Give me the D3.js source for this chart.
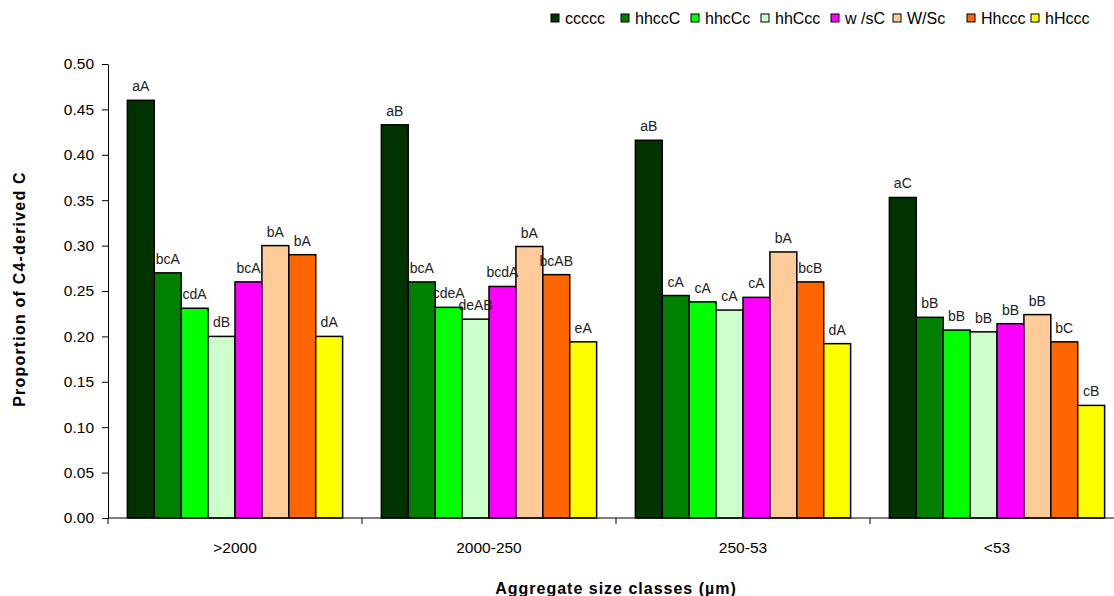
<!DOCTYPE html>
<meta charset="utf-8">
<head>
<style>
body { margin: 0; background: #fff; }
svg { font-family: "Liberation Sans", Arial, sans-serif; }
.axis path, .axis line { stroke: #000; stroke-width: 1px; }
.axis text { font-size: 15.5px; fill: #000; }
.bar { stroke: #000; stroke-width: 1.5px; }
.lbl { font-size: 14px; fill: #222; text-anchor: middle; }
</style>
</head>
<body>
<svg width="1114" height="596"></svg>
<script src="https://cdn.jsdelivr.net/npm/d3@7"></script>
<script>
var groups = [">2000", "2000-250", "250-53", "<53"];
var series = ["ccccc", "hhccC", "hhcCc", "hhCcc", "w /sC", "W/Sc", "Hhccc", "hHccc"];
var colors = ["#003300", "#008000", "#00ff00", "#ccffcc", "#ff00ff", "#ffcc99", "#ff6600", "#ffff00"];
// values per series, one per group
var ccccc = [0.460, 0.433, 0.416, 0.353];
var hhccC = [0.270, 0.260, 0.245, 0.221];
var hhcCc = [0.231, 0.232, 0.238, 0.207];
var hhCcc = [0.200, 0.219, 0.229, 0.205];
var wsC   = [0.260, 0.255, 0.243, 0.214];
var WSc   = [0.300, 0.299, 0.293, 0.224];
var Hhccc = [0.290, 0.268, 0.260, 0.194];
var hHccc = [0.200, 0.194, 0.192, 0.124];
var values = [ccccc, hhccC, hhcCc, hhCcc, wsC, WSc, Hhccc, hHccc];
var letters = [
  ["aA", "aB", "aB", "aC"],
  ["bcA", "bcA", "cA", "bB"],
  ["cdA", "cdeA", "cA", "bB"],
  ["dB", "deAB", "cA", "bB"],
  ["bcA", "bcdA", "cA", "bB"],
  ["bA", "bA", "bA", "bB"],
  ["bA", "bcAB", "bcB", "bC"],
  ["dA", "eA", "dA", "cB"]
];
var yTicks = d3.range(0, 0.501, 0.05);

var svg = d3.select("svg");
var x0 = d3.scaleBand().domain(groups).range([108, 1124]).padding(0);
var x1 = d3.scaleBand().domain(series).range([0, x0.bandwidth()]).paddingInner(0).paddingOuter(0.72);
var y = d3.scaleLinear().domain([0, 0.5]).range([518, 64]);

// bars
var data = [];
groups.forEach(function(g, gi) {
  series.forEach(function(s, si) {
    data.push({g: g, s: s, si: si, v: values[si][gi], t: letters[si][gi]});
  });
});

svg.selectAll("rect.bar").data(data).enter().append("rect")
    .attr("class", "bar")
    .attr("x", function(d) { return x0(d.g) + x1(d.s); })
    .attr("y", function(d) { return y(d.v); })
    .attr("width", x1.bandwidth())
    .attr("height", function(d) { return y(0) - y(d.v); })
    .attr("fill", function(d) { return colors[d.si]; });

svg.selectAll("text.lbl").data(data).enter().append("text")
    .attr("class", "lbl")
    .attr("x", function(d) { return x0(d.g) + x1(d.s) + x1.bandwidth() / 2; })
    .attr("y", function(d) { return y(d.v) - 9; })
    .text(function(d) { return d.t; });

// y axis
svg.append("g")
    .attr("class", "axis")
    .attr("transform", "translate(108,0)")
    .call(d3.axisLeft(y).tickValues(yTicks).tickFormat(d3.format(".2f")).tickSize(6).tickSizeOuter(0))
    .selectAll("text").attr("dx", "-5");

// x axis with ticks at group boundaries
var xg = svg.append("g")
    .attr("class", "axis")
    .attr("transform", "translate(0,518)");
xg.append("line").attr("x1", 108).attr("x2", 1124).attr("y1", 0).attr("y2", 0);
xg.selectAll("line.tk").data(groups).enter().append("line")
    .attr("class", "tk")
    .attr("x1", function(d) { return x0(d); })
    .attr("x2", function(d) { return x0(d); })
    .attr("y1", 0).attr("y2", 6);
xg.selectAll("text").data(groups).enter().append("text")
    .attr("x", function(d) { return x0(d) + x0.bandwidth() / 2; })
    .attr("y", 35)
    .attr("text-anchor", "middle")
    .text(function(d) { return d; });

// titles
svg.append("text")
    .attr("transform", "translate(25,289) rotate(-90)")
    .attr("text-anchor", "middle")
    .style("font-size", "16px").style("font-weight", "bold").style("letter-spacing", "1.2px")
    .text("Proportion of C4-derived C");
svg.append("text")
    .attr("x", 616).attr("y", 594)
    .attr("text-anchor", "middle")
    .style("font-size", "16px").style("font-weight", "bold").style("letter-spacing", "1px")
    .text("Aggregate size classes (µm)");

// legend
var legX = [551, 621, 691, 761, 831, 893, 967, 1031];
var leg = svg.selectAll("g.leg").data(series).enter().append("g")
    .attr("class", "leg")
    .attr("transform", function(d, i) { return "translate(" + legX[i] + ",14)"; });
leg.append("rect")
    .attr("width", 8).attr("height", 8)
    .attr("fill", function(d, i) { return colors[i]; })
    .attr("stroke", "#000").attr("stroke-width", 1);
leg.append("text")
    .attr("x", 14).attr("y", 10)
    .style("font-size", "16px")
    .text(function(d) { return d; });
</script>
</body>
</html>
